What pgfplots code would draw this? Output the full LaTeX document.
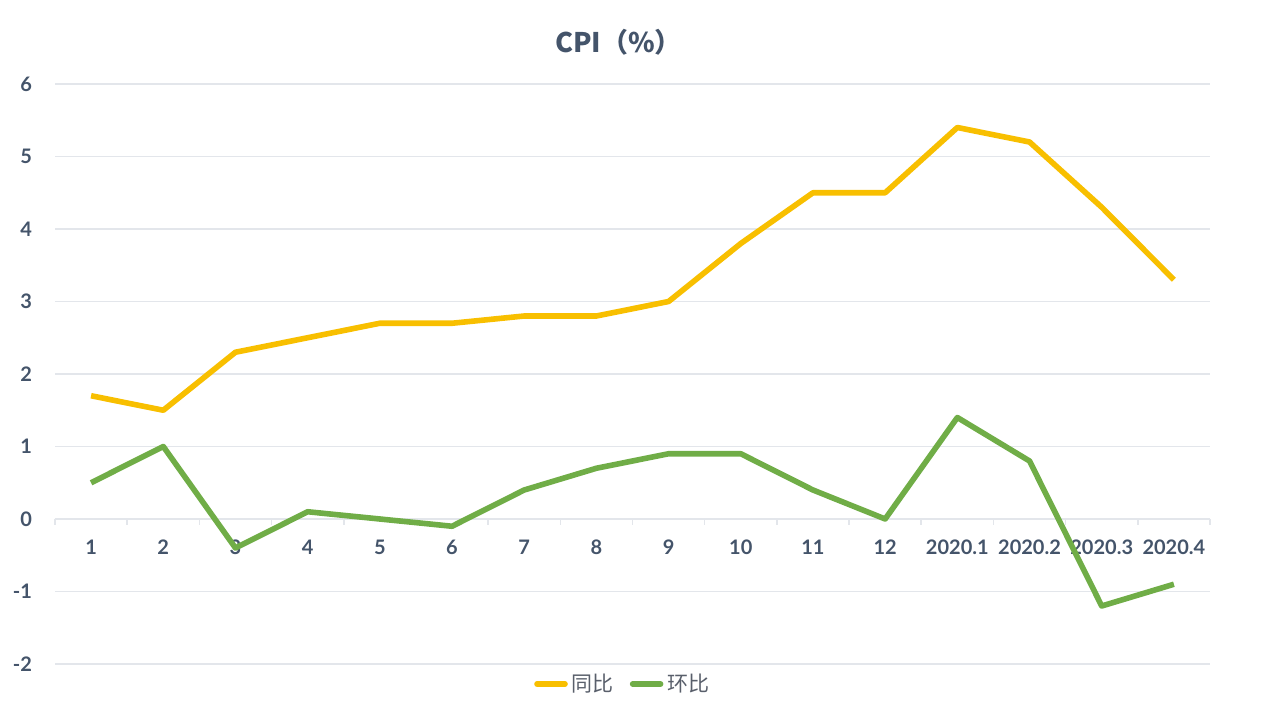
\documentclass[border=0pt]{standalone}
\usepackage{pgfplots}
\pgfplotsset{compat=1.18}
\usepackage{fontspec}
\setmainfont{Lato}
\newfontfamily\cjk{Noto Sans CJK SC}
\definecolor{txt}{HTML}{44546A}
\definecolor{legtxt}{HTML}{595F6B}
\definecolor{yel}{HTML}{F8BF00}
\definecolor{grn}{HTML}{70AD47}
\definecolor{gridc}{HTML}{E3E6EB}
\begin{document}
\begin{tikzpicture}
\path[use as bounding box] (0,0) rectangle (632.5pt,353pt);
\begin{axis}[
  at={(27.5pt,21pt)}, anchor=south west,
  scale only axis, width=577.5pt, height=290pt,
  xmin=-0.5, xmax=15.5, ymin=-2, ymax=6,
  axis x line=middle, axis y line=left,
  hide obscured y ticks=false, hide obscured x ticks=false,
  x axis line style={gridc, line width=0.8pt, -},
  y axis line style={draw=none},
  ytick={-2,...,6},
  ytick style={draw=none},
  ymajorgrids, grid style={gridc, line width=0.6pt},
  xtick={0,...,15},
  xticklabels={1,2,3,4,5,6,7,8,9,10,11,12,2020.1,2020.2,2020.3,2020.4},
  minor xtick={-0.5,0.5,...,15.5},
  major tick length=0pt, minor tick length=3pt, tick align=outside,
  minor x tick style={gridc, line width=0.8pt},
  /pgf/number format/assume math mode=true,
  xticklabel style={font=\fontsize{10}{12}\selectfont\bfseries, text=txt, yshift=-7pt},
  yticklabel style={font=\fontsize{10}{12}\selectfont\bfseries, text=txt, xshift=-8pt},
  title={\cjk\bfseries CPI（\%）},
  title style={at={(0.488,1)}, anchor=center, yshift=15pt, font=\fontsize{13.5}{16}\selectfont, text=txt},
  legend style={at={(0.4925,-0.0345)}, anchor=center, draw=none, fill=none,
    font=\cjk\fontsize{10.5}{12}\selectfont, text=legtxt,
    /tikz/every even column/.append style={column sep=6pt}},
  legend columns=2, legend cell align=left,
  legend image code/.code={\draw[#1, line cap=round] (0pt,0pt) -- (14pt,0pt);},
]
\addplot[yel, line width=2.8pt, line join=round] coordinates {
(0,1.7) (1,1.5) (2,2.3) (3,2.5) (4,2.7) (5,2.7) (6,2.8) (7,2.8) (8,3.0) (9,3.8) (10,4.5) (11,4.5) (12,5.4) (13,5.2) (14,4.3) (15,3.3)};
\addlegendentry{同比}
\addplot[grn, line width=2.8pt, line join=round] coordinates {
(0,0.5) (1,1.0) (2,-0.4) (3,0.1) (4,0.0) (5,-0.1) (6,0.4) (7,0.7) (8,0.9) (9,0.9) (10,0.4) (11,0.0) (12,1.4) (13,0.8) (14,-1.2) (15,-0.9)};
\addlegendentry{环比}
\end{axis}
\end{tikzpicture}
\end{document}
